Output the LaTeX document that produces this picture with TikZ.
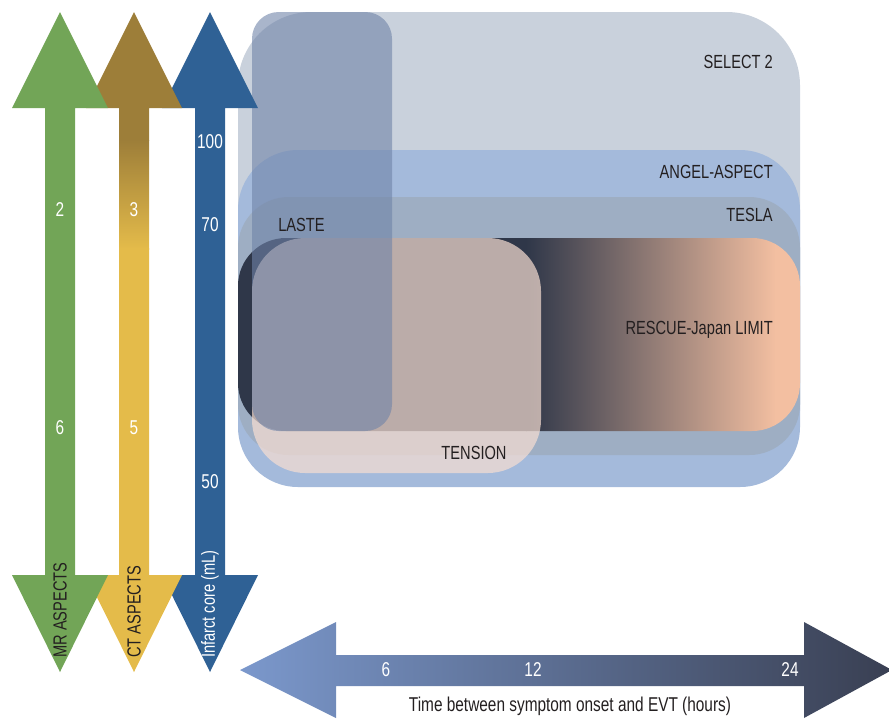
\documentclass[tikz,border=0pt]{standalone}
\usepackage{fontspec}
\setmainfont{Liberation Sans}[FakeStretch=0.77]
\definecolor{mrgreen}{HTML}{72A557}
\definecolor{ctbrown}{HTML}{9D7E39}
\definecolor{ctyellow}{HTML}{E4BB4A}
\definecolor{coreblue}{HTML}{2F6195}
\definecolor{selectc}{HTML}{C9D1DC}
\definecolor{angelc}{HTML}{A4BADB}
\definecolor{teslac}{HTML}{9EAEC3}
\definecolor{rescdark}{HTML}{2F3749}
\definecolor{rescpeach}{HTML}{F3BFA1}
\definecolor{tensionc}{HTML}{F7DED2}
\definecolor{lastec}{HTML}{6F83A8}
\definecolor{timel}{HTML}{7B98CC}
\definecolor{timer}{HTML}{393F52}
\definecolor{txt}{HTML}{231F20}
\begin{document}
\begin{tikzpicture}[x=0.75pt,y=-0.75pt,
  lbl/.style={text=txt,font=\fontsize{14.25}{16}\selectfont,inner sep=0pt},
  num/.style={text=white,font=\fontsize{15}{17}\selectfont,inner sep=0pt}]
\useasboundingbox (0,0) rectangle (889,719);
% --- trial boxes ---
\fill[selectc,rounded corners=55] (238,12) rectangle (800,484);
\fill[angelc,rounded corners=45] (238,150) rectangle (800,487);
\fill[teslac,rounded corners=38] (238,197) rectangle (800,455);
\begin{scope}
  \clip[rounded corners=36] (238,238) rectangle (800,431);
  \fill[rescdark] (230,230) rectangle (527,440);
  \shade[left color=rescdark,right color=rescpeach] (526,230) rectangle (776,440);
  \fill[rescpeach] (775,230) rectangle (810,440);
\end{scope}
\fill[tensionc,fill opacity=0.7,rounded corners=40] (252,238) rectangle (541,473);
\fill[lastec,fill opacity=0.6,rounded corners=20] (252,12) rectangle (392,431);
% --- box labels ---
\node[lbl,anchor=east] (sel) at (773,62) {SELECT 2};
\node[lbl,anchor=east] (ang) at (773,172) {ANGEL-ASPECT};
\node[lbl,anchor=east] (tes) at (773,215) {TESLA};
\node[lbl,anchor=east] (res) at (773,330) {RESCUE-Japan LIMIT};
\node[lbl,anchor=west] (las) at (278,225) {LASTE};
\node[lbl] (ten) at (474,453) {TENSION};
% --- vertical arrows ---
\fill[coreblue] (210,12) -- (258,108) -- (225,108) -- (225,575) -- (258,575) -- (210,672)
  -- (162,575) -- (195,575) -- (195,108) -- (162,108) -- cycle;
\begin{scope}
  \clip (134,12) -- (182,108) -- (149,108) -- (149,575) -- (182,575) -- (134,672)
  -- (86,575) -- (119,575) -- (119,108) -- (86,108) -- cycle;
  \fill[ctbrown] (80,0) rectangle (190,141);
  \shade[top color=ctbrown,bottom color=ctyellow] (80,140) rectangle (190,249);
  \fill[ctyellow] (80,248) rectangle (190,690);
\end{scope}
\fill[mrgreen] (60,12) -- (108,108) -- (75,108) -- (75,575) -- (108,575) -- (60,672)
  -- (12,575) -- (45,575) -- (45,108) -- (12,108) -- cycle;
% --- horizontal arrow ---
\shade[left color=timel,right color=timer] (240,670) -- (336,622) -- (336,655) -- (804,655)
  -- (804,622) -- (892,670) -- (804,718) -- (804,686) -- (336,686) -- (336,718) -- cycle;
% --- arrow labels ---
\node[num] (m2) at (60,210) {2};
\node[num] (m6) at (60,428) {6};
\node[num] (c3) at (134,210) {3};
\node[num] (c5) at (134,428) {5};
\node[num] (i100) at (210,142) {100};
\node[num] (i70) at (210,225) {70};
\node[num] (i50) at (210,482) {50};
\node[lbl,rotate=90,anchor=west] (mr) at (60,658) {MR ASPECTS};
\node[lbl,rotate=90,anchor=west] (ct) at (134,658) {CT ASPECTS};
\node[lbl,text=white,rotate=90,anchor=west] (ic) at (210,658) {Infarct core (mL)};
\node[num] (t6) at (386,670) {6};
\node[num] (t12) at (533,670) {12};
\node[num] (t24) at (790,670) {24};
\node[lbl,font=\fontsize{15}{17}\selectfont] (tl) at (570,706) {Time between symptom onset and EVT (hours)};
\end{tikzpicture}
\end{document}
